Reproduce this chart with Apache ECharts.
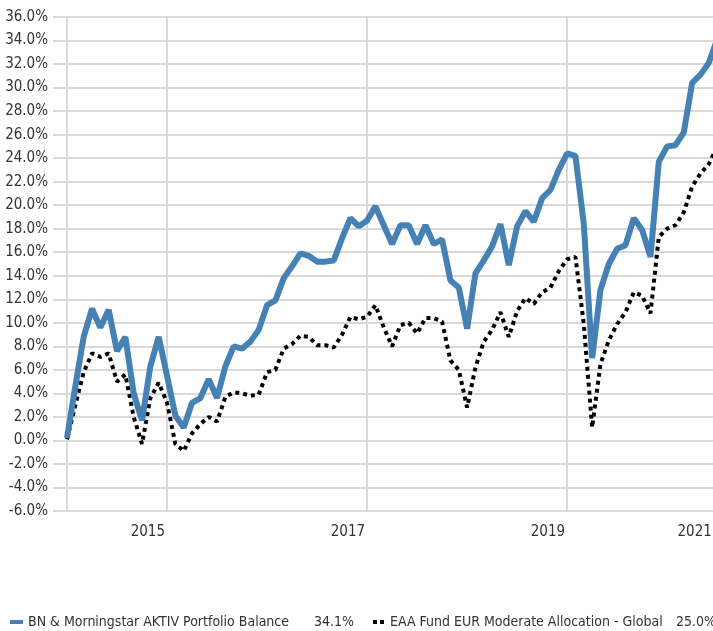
<!DOCTYPE html>
<html>
<head>
<meta charset="utf-8">
<script src="https://cdn.jsdelivr.net/npm/echarts@6/dist/echarts.min.js"></script>
<style>
  html, body { margin: 0; padding: 0; background: #fff; }
  #canvas { width: 713px; height: 631px; }
</style>
</head>
<body>
<div id="canvas"></div>
<script>
// monthly cumulative return, %, one point per month from the start
var fundValues = [
    0.2, 4.6, 8.8, 11.2, 9.6, 11.1, 7.6, 8.8, 4.0, 1.7,
    6.3, 8.8, 5.5, 2.1, 1.1, 3.2, 3.6, 5.2, 3.6, 6.3,
    8.0, 7.8, 8.4, 9.4, 11.5, 11.9, 13.8, 14.8, 15.9, 15.7,
    15.2, 15.2, 15.3, 17.2, 18.9, 18.2, 18.7, 19.9, 18.3, 16.7,
    18.3, 18.3, 16.7, 18.3, 16.7, 17.1, 13.6, 13.0, 9.5, 14.2,
    15.3, 16.5, 18.4, 14.9, 18.2, 19.5, 18.6, 20.6, 21.3, 23.0,
    24.4, 24.2, 18.4, 7.0, 12.8, 15.0, 16.3, 16.6, 18.9, 17.9,
    15.6, 23.7, 25.0, 25.1, 26.2, 30.4, 31.1, 32.1, 34.1
];
var categoryValues = [
    0.1, 3.0, 5.8, 7.4, 7.1, 7.4, 5.0, 5.6, 2.0, -0.3,
    3.6, 4.9, 3.2, -0.3, -0.9, 0.6, 1.4, 2.0, 1.6, 3.7,
    4.1, 4.0, 3.8, 3.9, 5.8, 6.0, 7.8, 8.2, 8.9, 8.8,
    8.1, 8.1, 7.9, 9.0, 10.5, 10.3, 10.5, 11.5, 9.6, 8.0,
    9.8, 10.0, 9.1, 10.4, 10.4, 10.1, 6.8, 6.0, 2.8, 6.2,
    8.4, 9.4, 10.9, 8.8, 11.0, 12.1, 11.6, 12.6, 13.0, 14.4,
    15.4, 15.6, 9.9, 1.1, 6.5, 8.5, 9.9, 10.9, 12.6, 12.3,
    10.8, 17.3, 18.0, 18.3, 19.4, 21.6, 22.7, 23.5, 25.0
];
var seriesNames = ['BN & Morningstar AKTIV Portfolio Balance', 'EAA Fund EUR Moderate Allocation - Global'];
var totalReturns = ['34.1%', '25.0%'];

// x axis in months since start
var gridMonths = [0, 12, 36, 60];
var yearLabels = ['2015', '2017', '2019', '2021'];
var yearLabelPos = [9.7, 33.7, 57.7, 75.3];

var FONT = "'Liberation Sans Narrow', 'DejaVu Sans Condensed', sans-serif";
var BLUE = '#4581b5';

var toPoints = function(vals) {
    return vals.map(function(v, i) { return [i, v]; });
};

var legendFor = function(i, left, icon) {
    return {
        left: left,
        top: 610,
        itemWidth: 13,
        itemHeight: 4,
        data: [{ name: seriesNames[i], icon: icon }],
        formatter: function(name) {
            return '{n|' + name + '}{v|' + totalReturns[i] + '}';
        },
        textStyle: {
            fontFamily: FONT,
            fontSize: 14,
            color: '#333',
            rich: {
                n: { width: 287, fontFamily: FONT, fontSize: 14, color: '#333' },
                v: { width: 39, align: 'right', fontFamily: FONT, fontSize: 14, color: '#333' }
            }
        }
    };
};

var myChart = echarts.init(document.getElementById('canvas'));
var option = {
    animation: false,
    grid: {
        left: 53,
        right: 0,
        top: 17,
        bottom: 120,
        containLabel: false,
        outerBoundsMode: 'none'
    },
    legend: [
        legendFor(0, 5, 'path://M0,0h13v4h-13z'),
        legendFor(1, 368, 'path://M0,0h4v4h-4zM7,0h4v4h-4z')
    ],
    xAxis: {
        type: 'value',
        min: -1.68,
        max: 77.5,
        axisLine: { show: false },
        axisTick: {
            show: true,
            customValues: gridMonths,
            length: 13,
            lineStyle: { color: '#d9d9d9', width: 2 }
        },
        splitLine: {
            show: true,
            lineStyle: { color: '#d9d9d9', width: 2 }
        },
        axisLabel: {
            customValues: yearLabelPos,
            margin: 14,
            fontFamily: FONT,
            fontSize: 15,
            color: '#333',
            formatter: function(v) {
                for (var i = 0; i < yearLabelPos.length; i++) {
                    if (Math.abs(yearLabelPos[i] - v) < 0.01) return yearLabels[i];
                }
                return '';
            }
        }
    },
    yAxis: {
        type: 'value',
        min: -6,
        max: 36,
        interval: 2,
        axisLine: { show: false },
        axisTick: { show: false },
        splitLine: { lineStyle: { color: '#d9d9d9', width: 2 } },
        axisLabel: {
            margin: 5,
            fontFamily: FONT,
            fontSize: 15,
            color: '#333',
            formatter: function(v) { return v.toFixed(1) + '%'; }
        }
    },
    series: [
        {
            name: seriesNames[0],
            type: 'line',
            data: toPoints(fundValues),
            showSymbol: false,
            symbol: 'none',
            clip: true,
            z: 3,
            lineStyle: { color: BLUE, width: 6 },
            itemStyle: { color: BLUE }
        },
        {
            name: seriesNames[1],
            type: 'line',
            data: toPoints(categoryValues),
            showSymbol: false,
            symbol: 'none',
            clip: true,
            z: 2,
            lineStyle: { color: '#000', width: 4, type: [4, 4] },
            itemStyle: { color: '#000' }
        }
    ]
};
myChart.setOption(option);
</script>
</body>
</html>
